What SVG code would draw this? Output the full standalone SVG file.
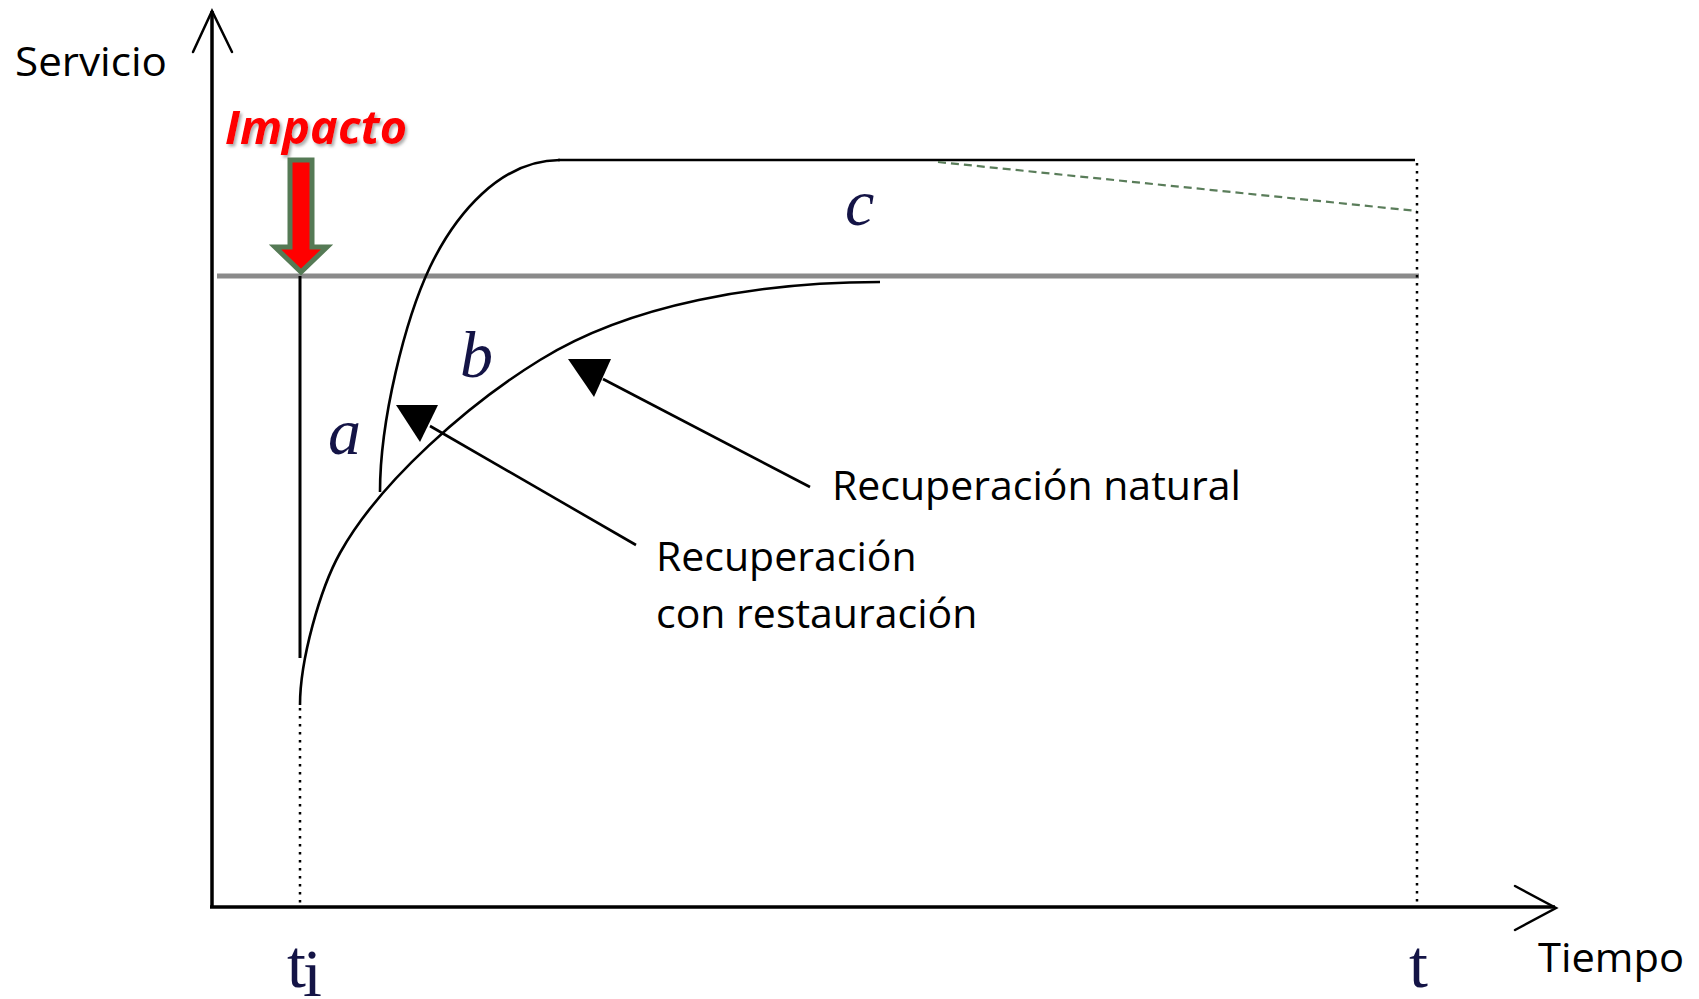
<svg xmlns="http://www.w3.org/2000/svg" width="1699" height="999" viewBox="0 0 1699 999">
<defs>
<style>
.ax{stroke:#000;stroke-width:3.5;fill:none}
.ah{stroke:#000;stroke-width:2.5;fill:none;stroke-linecap:round}
.cv{stroke:#000;stroke-width:2.6;fill:none}
.dot{stroke:#000;stroke-width:2.5;stroke-dasharray:2.5 5.5;fill:none}
.lbl{font-family:"Open Sans","Liberation Sans",sans-serif;font-size:41px;fill:#000}
.var{font-family:"Liberation Serif","DejaVu Serif",serif;font-style:italic;font-size:66px;fill:#141446}
.tt{font-family:"Liberation Serif","DejaVu Serif",serif;font-size:68px;fill:#141446}
.ptr{stroke:#000;stroke-width:2.6;fill:none}
.tri{fill:#000}
</style>
<filter id="sh" x="-10%" y="-20%" width="130%" height="150%">
<feDropShadow dx="2" dy="2.5" stdDeviation="1.5" flood-color="#777" flood-opacity="0.6"/>
</filter>
</defs>
<rect width="1699" height="999" fill="#fff"/>

<g id="axes">
<line class="ax" x1="212" y1="907" x2="212" y2="11"/>
<polyline class="ah" points="193,52 212,11 232,52"/>
<line class="ax" x1="210" y1="907" x2="1555" y2="907"/>
<polyline class="ah" points="1515,886 1556,908 1515,930"/>
</g>

<g id="reference-lines">
<line x1="217" y1="276" x2="1419" y2="276" stroke="#8a8a8a" stroke-width="5"/>
<line class="cv" x1="558" y1="160" x2="1415" y2="160" stroke-width="3"/>
<line x1="938" y1="162" x2="1417" y2="211" stroke="#5a7d5a" stroke-width="2.2" stroke-dasharray="8 5"/>
<line class="dot" x1="1417" y1="163" x2="1417" y2="905"/>
<line class="dot" x1="300" y1="708" x2="300" y2="905"/>
<line x1="300" y1="276" x2="300" y2="658" stroke="#000" stroke-width="3"/>
</g>

<g id="curve-b">
<path class="cv" d="M300,705 C300,660 320,589 340,553 C380,481 470,403 540,360 C630,304 760,282 880,282"/>
</g>

<g id="curve-a">
<path class="cv" d="M380,492 C380,420 405,320 430,267 C455,215 500,160 560,160"/>
</g>

<g id="impacto">
<text x="225" y="144" font-family="'Open Sans','Liberation Sans',sans-serif" font-weight="bold" font-style="italic" font-size="46" textLength="182" lengthAdjust="spacingAndGlyphs" fill="#ff0000" filter="url(#sh)">Impacto</text>
<polygon points="290,160 312,160 312,247 327,247 301,272 275,247 290,247" fill="#ff0000" stroke="#557a55" stroke-width="5" stroke-linejoin="miter"/>
</g>

<g id="connectors">
<line class="ptr" x1="636" y1="545" x2="430" y2="426"/>
<polygon class="tri" points="396,405 438,405 420,442"/>
<line class="ptr" x1="810" y1="487" x2="603" y2="379"/>
<polygon class="tri" points="568,359 611,359 594,397"/>
</g>

<g id="label-servicio"><text class="lbl" x="15" y="76" font-size="42" textLength="152" lengthAdjust="spacingAndGlyphs">Servicio</text></g>
<g id="label-tiempo"><text class="lbl" x="1538" y="972" font-size="42" textLength="146" lengthAdjust="spacingAndGlyphs">Tiempo</text></g>
<g id="label-natural"><text class="lbl" x="832" y="500">Recuperación natural</text></g>
<g id="label-restauracion"><text class="lbl" x="656" y="571">Recuperación</text><text class="lbl" x="656" y="628">con restauración</text></g>

<g id="label-a"><text class="var" x="328" y="454">a</text></g>
<g id="label-b"><text class="var" x="460" y="377">b</text></g>
<g id="label-c"><text class="var" x="845" y="225">c</text></g>
<g id="label-ti"><text class="tt" x="287" y="987">t</text><text class="tt" x="303" y="996" font-size="42">i</text></g>
<g id="label-t"><text class="tt" x="1409" y="987">t</text></g>
</svg>
